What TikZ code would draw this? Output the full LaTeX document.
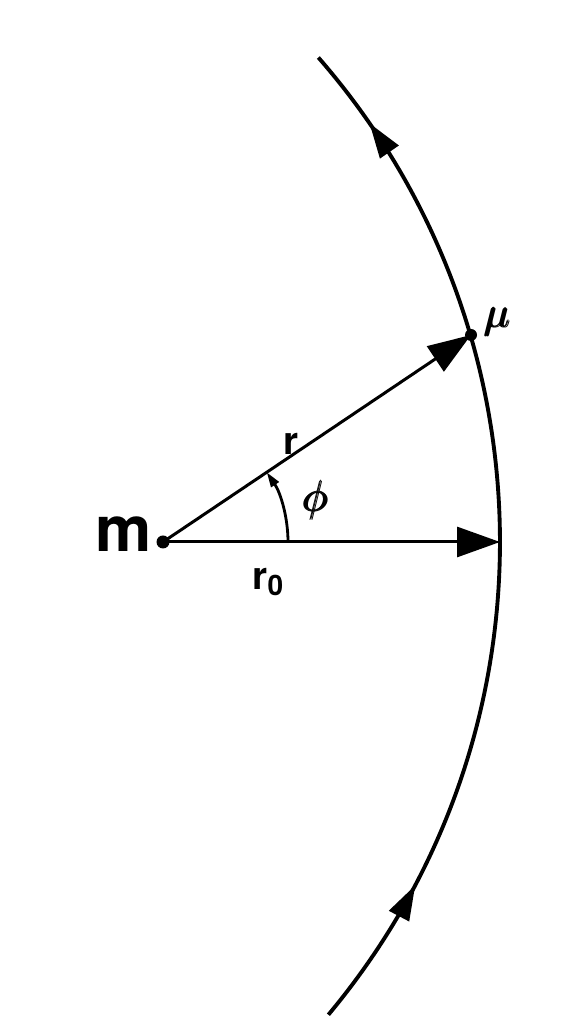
\documentclass[tikz,border=0pt]{standalone}
\usepackage{amsmath}
\usepackage{fontspec}
\setsansfont{TeX Gyre Heros}
\usepackage{tikz}
\usetikzlibrary{positioning,calc,arrows.meta,decorations.markings}

\begin{document}
\begin{tikzpicture}[x=0.02cm,y=0.02cm]
		\useasboundingbox (0,0) rectangle (586,1034);
		\node[circle,fill=black,inner sep=0pt,minimum size=0.26cm] (m) at (163,492) {};
		\node[circle,fill=black,inner sep=0pt,minimum size=0.24cm] (mu) at (471,699) {};
		\coordinate (ctr) at (-237,492);
		\coordinate (rzero) at (500,492);
		\node[font=\sffamily\bfseries\fontsize{36}{36}\selectfont] (mlab) at (124,500) {m};
		\node[font=\sffamily\bfseries\fontsize{22}{22}\selectfont] (rlab) at (291,590) {r};
		\node[font=\fontsize{30}{30}\selectfont] (philab) at (316,534) {$\pmb{\phi}$};
		\node[font=\sffamily\bfseries\fontsize{22}{22}\selectfont] (rzlab) at (268,452) {r\raisebox{-0.3ex}{\fontsize{16}{16}\selectfont 0}};
		\node[font=\fontsize{24}{24}\selectfont] (mulab) at (498,712) {$\pmb{\mu}$};
		
		\draw[line width=2.2pt,
			postaction={decorate,decoration={markings,
				mark=at position 0.15 with {\arrow{Triangle[length=0.7cm,width=0.44cm]}},
				mark=at position 0.92 with {\arrow{Triangle[length=0.7cm,width=0.44cm]}}}}]
			($(ctr)+(-39.9:737)$) arc[start angle=-39.9,end angle=41.1,radius=737];
		\draw[line width=1.7pt,-{Triangle[length=0.86cm,width=0.6cm]}] (m.center)--(mu.center);
		\draw[line width=1.7pt,-{Triangle[length=0.86cm,width=0.6cm]}] (m.center)--(rzero);
		\draw[line width=1.6pt,-{Triangle[length=0.3cm,width=0.18cm]}] ($(m.center)+(0:125)$) arc[start angle=0,end angle=33.9,radius=125];
	\end{tikzpicture}
\end{document}
